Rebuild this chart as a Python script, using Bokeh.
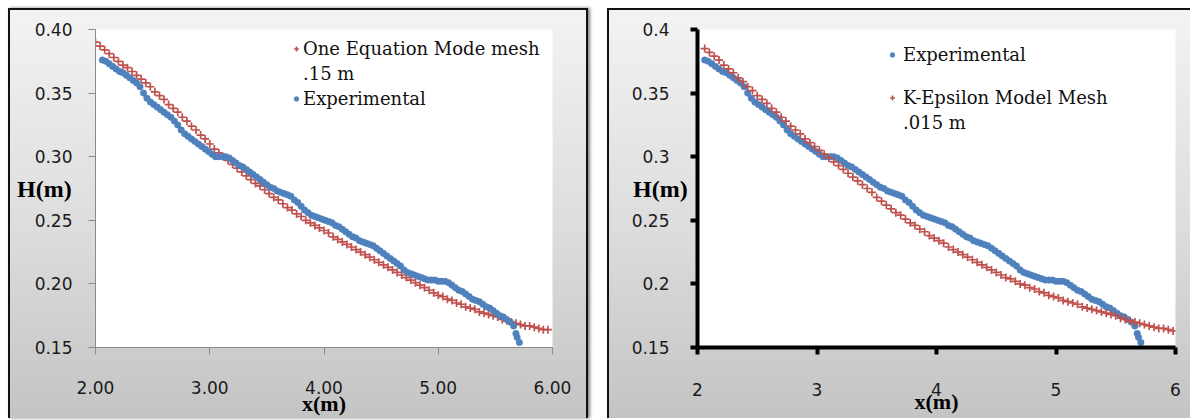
from bokeh.plotting import figure
from bokeh.layouts import row
from bokeh.models import (Range1d, FixedTicker, NumeralTickFormatter, Legend,
                          LegendItem, ColumnDataSource)
from bokeh.embed import file_html
from bokeh.resources import INLINE

# ---------------- data ----------------
exp_x = [2.06, 2.09, 2.12, 2.15, 2.18, 2.21, 2.24, 2.27, 2.30, 2.33, 2.36, 2.39, 2.42, 2.45,
         2.48, 2.51, 2.54, 2.57, 2.60, 2.63, 2.66, 2.69, 2.72, 2.75, 2.78, 2.81, 2.84, 2.87,
         2.90, 2.93, 2.96, 2.99, 3.02, 3.05, 3.08, 3.11, 3.14, 3.17, 3.20, 3.23, 3.26, 3.29,
         3.32, 3.35, 3.38, 3.41, 3.44, 3.47, 3.50, 3.53, 3.56, 3.59, 3.62, 3.65, 3.68, 3.71,
         3.74, 3.77, 3.80, 3.83, 3.86, 3.89, 3.92, 3.95, 3.98, 4.01, 4.04, 4.07, 4.10, 4.13,
         4.16, 4.19, 4.22, 4.25, 4.28, 4.31, 4.34, 4.37, 4.40, 4.43, 4.46, 4.49, 4.52, 4.55,
         4.58, 4.61, 4.64, 4.67, 4.70, 4.73, 4.76, 4.79, 4.82, 4.85, 4.88, 4.91, 4.94, 4.97,
         5.00, 5.03, 5.06, 5.09, 5.12, 5.15, 5.18, 5.21, 5.24, 5.27, 5.30, 5.33, 5.36, 5.39,
         5.42, 5.45, 5.48, 5.51, 5.54, 5.57, 5.60, 5.63, 5.66, 5.68, 5.69, 5.71]
exp_h = [0.376, 0.375, 0.373, 0.371, 0.369, 0.367, 0.366, 0.364, 0.362, 0.360, 0.358, 0.355, 0.350, 0.346,
         0.343, 0.341, 0.339, 0.337, 0.335, 0.333, 0.331, 0.328, 0.325, 0.321, 0.318, 0.316, 0.314, 0.312,
         0.310, 0.308, 0.306, 0.304, 0.302, 0.300, 0.300, 0.300, 0.300, 0.299, 0.297, 0.295, 0.293, 0.292,
         0.290, 0.288, 0.286, 0.284, 0.282, 0.280, 0.278, 0.276, 0.275, 0.273, 0.272, 0.271, 0.270, 0.269,
         0.266, 0.264, 0.261, 0.258, 0.256, 0.254, 0.253, 0.252, 0.251, 0.250, 0.249, 0.248, 0.246, 0.245,
         0.243, 0.241, 0.239, 0.237, 0.236, 0.234, 0.233, 0.232, 0.231, 0.230, 0.228, 0.226, 0.224, 0.222,
         0.220, 0.218, 0.216, 0.214, 0.211, 0.209, 0.208, 0.207, 0.206, 0.205, 0.204, 0.203, 0.203, 0.203,
         0.202, 0.202, 0.202, 0.201, 0.199, 0.197, 0.195, 0.194, 0.192, 0.190, 0.188, 0.187, 0.186, 0.184,
         0.182, 0.181, 0.179, 0.177, 0.175, 0.174, 0.172, 0.170, 0.167, 0.161, 0.158, 0.154]

one_eq_x = [2.00, 2.04, 2.08, 2.12, 2.16, 2.20, 2.24, 2.28, 2.32, 2.36, 2.40, 2.44, 2.48, 2.52,
            2.56, 2.60, 2.64, 2.68, 2.72, 2.76, 2.80, 2.84, 2.88, 2.92, 2.96, 3.00, 3.04, 3.08,
            3.12, 3.16, 3.20, 3.24, 3.28, 3.32, 3.36, 3.40, 3.44, 3.48, 3.52, 3.56, 3.60, 3.64,
            3.68, 3.72, 3.76, 3.80, 3.84, 3.88, 3.92, 3.96, 4.00, 4.04, 4.08, 4.12, 4.16, 4.20,
            4.24, 4.28, 4.32, 4.36, 4.40, 4.44, 4.48, 4.52, 4.56, 4.60, 4.64, 4.68, 4.72, 4.76,
            4.80, 4.84, 4.88, 4.92, 4.96, 5.00, 5.04, 5.08, 5.12, 5.16, 5.20, 5.24, 5.28, 5.32,
            5.36, 5.40, 5.44, 5.48, 5.52, 5.56, 5.60, 5.64, 5.68, 5.72, 5.76, 5.80, 5.84, 5.88,
            5.92, 5.96]
one_eq_h = [0.390, 0.387, 0.384, 0.381, 0.378, 0.375, 0.372, 0.370, 0.367, 0.364, 0.361, 0.358, 0.355, 0.351,
            0.348, 0.345, 0.341, 0.338, 0.335, 0.331, 0.328, 0.324, 0.321, 0.317, 0.314, 0.310, 0.306, 0.303,
            0.300, 0.297, 0.294, 0.291, 0.288, 0.285, 0.282, 0.279, 0.277, 0.274, 0.271, 0.268, 0.266, 0.263,
            0.260, 0.258, 0.255, 0.253, 0.250, 0.248, 0.246, 0.244, 0.242, 0.240, 0.237, 0.235, 0.233, 0.231,
            0.229, 0.227, 0.225, 0.223, 0.221, 0.219, 0.217, 0.215, 0.213, 0.211, 0.209, 0.207, 0.205, 0.203,
            0.201, 0.199, 0.197, 0.195, 0.193, 0.191, 0.190, 0.188, 0.187, 0.185, 0.184, 0.182, 0.181, 0.180,
            0.178, 0.177, 0.176, 0.175, 0.174, 0.172, 0.171, 0.170, 0.169, 0.168, 0.167, 0.167, 0.166, 0.165,
            0.164, 0.164]

keps_x = [2.06, 2.10, 2.14, 2.18, 2.22, 2.26, 2.30, 2.34, 2.38, 2.42, 2.46, 2.50, 2.54, 2.58,
          2.62, 2.66, 2.70, 2.74, 2.78, 2.82, 2.86, 2.90, 2.94, 2.98, 3.02, 3.06, 3.10, 3.14,
          3.18, 3.22, 3.26, 3.30, 3.34, 3.38, 3.42, 3.46, 3.50, 3.54, 3.58, 3.62, 3.66, 3.70,
          3.74, 3.78, 3.82, 3.86, 3.90, 3.94, 3.98, 4.02, 4.06, 4.10, 4.14, 4.18, 4.22, 4.26,
          4.30, 4.34, 4.38, 4.42, 4.46, 4.50, 4.54, 4.58, 4.62, 4.66, 4.70, 4.74, 4.78, 4.82,
          4.86, 4.90, 4.94, 4.98, 5.02, 5.06, 5.10, 5.14, 5.18, 5.22, 5.26, 5.30, 5.34, 5.38,
          5.42, 5.46, 5.50, 5.54, 5.58, 5.62, 5.66, 5.70, 5.74, 5.78, 5.82, 5.86, 5.90, 5.94,
          5.98]
keps_h = [0.385, 0.382, 0.379, 0.376, 0.372, 0.369, 0.366, 0.362, 0.359, 0.355, 0.352, 0.348, 0.345, 0.342,
          0.338, 0.335, 0.331, 0.328, 0.324, 0.321, 0.318, 0.314, 0.311, 0.308, 0.305, 0.302, 0.299, 0.296,
          0.293, 0.290, 0.287, 0.284, 0.281, 0.278, 0.275, 0.272, 0.268, 0.265, 0.262, 0.259, 0.256, 0.254,
          0.251, 0.248, 0.246, 0.243, 0.241, 0.238, 0.236, 0.234, 0.232, 0.229, 0.227, 0.225, 0.223, 0.221,
          0.219, 0.217, 0.215, 0.213, 0.211, 0.209, 0.207, 0.205, 0.204, 0.202, 0.200, 0.199, 0.197, 0.196,
          0.194, 0.193, 0.191, 0.190, 0.189, 0.187, 0.186, 0.185, 0.184, 0.182, 0.181, 0.180, 0.179, 0.178,
          0.177, 0.176, 0.175, 0.173, 0.172, 0.171, 0.170, 0.169, 0.168, 0.167, 0.166, 0.165, 0.165, 0.164,
          0.163]

x_ticks = [2, 3, 4, 5, 6]
y_ticks = [0.15, 0.20, 0.25, 0.30, 0.35, 0.40]

left_labels = ["One Equation Mode mesh", ".15 m", "Experimental"]
right_labels = ["Experimental", "K-Epsilon Model Mesh", ".015 m"]
x_title = "x(m)"
y_title = "H(m)"

RED = "#C0504D"
BLUE = "#4F81BD"
TICK_FONT = "DejaVu Sans"
LEG_FONT = "DejaVu Serif"
TITLE_FONT = "Liberation Serif"
GRAD = "linear-gradient(to bottom, #f3f3f3 0%, #dcdcdc 55%, #c4c4c4 100%)"


def base_fig(w, h, ml, mr, mt, mb, styles):
    p = figure(width=w, height=h, output_backend="svg", toolbar_location=None,
               x_range=Range1d(2, 6), y_range=Range1d(0.15, 0.40),
               min_border_left=ml, min_border_right=mr, min_border_top=mt, min_border_bottom=mb)
    p.border_fill_color = None
    p.background_fill_color = "white"
    p.outline_line_color = None
    p.grid.visible = False
    p.styles = styles
    for ax in (p.xaxis[0], p.yaxis[0]):
        ax.minor_tick_line_color = None
        ax.major_tick_in = 0
        ax.major_tick_out = 7
        ax.major_label_text_font = TICK_FONT
        ax.major_label_text_font_size = "17px"
        ax.major_label_text_color = "#1a1a1a"
        ax.axis_label_text_font = TITLE_FONT
        ax.axis_label_text_font_style = "bold"
        ax.axis_label_text_color = "black"
    p.xaxis.ticker = FixedTicker(ticks=x_ticks)
    p.yaxis.ticker = FixedTicker(ticks=y_ticks)
    p.yaxis.axis_label = y_title
    p.yaxis.axis_label_orientation = "horizontal"
    p.yaxis.axis_label_text_font_size = "24px"
    p.xaxis.axis_label = x_title
    p.xaxis.axis_label_text_font_size = "22px"
    return p


def legend(items, loc, spacing, standoff):
    return Legend(items=items, location=loc, padding=0, margin=0, spacing=spacing,
                  glyph_width=12, glyph_height=25, label_standoff=standoff,
                  border_line_color=None, background_fill_alpha=0,
                  label_text_font=LEG_FONT, label_text_font_size="18px",
                  label_text_color="#111")


# ---------------- left chart ----------------
p1 = base_fig(580, 410, 85, 38, 15, 73,
              {"background": GRAD, "border-left": "2px solid #111", "border-top": "2px solid #111",
               "border-right": "2px solid #111", "box-shadow": "2px 0px 3px rgba(0,0,0,0.5)"})
for ax in (p1.xaxis[0], p1.yaxis[0]):
    ax.axis_line_color = "#8a8a8a"
    ax.major_tick_line_color = "#8a8a8a"
p1.xaxis.formatter = NumeralTickFormatter(format="0.00")
p1.yaxis.formatter = NumeralTickFormatter(format="0.00")
p1.yaxis.major_label_standoff = 16
p1.xaxis.major_label_standoff = 26
p1.yaxis.axis_label_standoff = -40
p1.xaxis.axis_label_standoff = -6

src_one = ColumnDataSource(dict(x=one_eq_x, y=one_eq_h))
src_exp1 = ColumnDataSource(dict(x=exp_x, y=exp_h))
r1a = p1.scatter("x", "y", source=src_one, marker="cross", size=8, line_color=RED, line_width=1.7)
r1b = p1.scatter("x", "y", source=src_exp1, marker="circle", size=6.5, fill_color=BLUE,
                 line_color=BLUE, line_width=0.5)

p1.add_layout(legend([LegendItem(label=left_labels[0], renderers=[r1a]),
                      LegendItem(label=left_labels[1], renderers=[]),
                      LegendItem(label=left_labels[2], renderers=[r1b])],
                     (195, 236), 0, 1))

# ---------------- right chart ----------------
p2 = base_fig(583, 410, 88, 17, 19, 70,
              {"background": GRAD, "border-left": "2px solid #111", "border-top": "2px solid #111"})
for ax in (p2.xaxis[0], p2.yaxis[0]):
    ax.axis_line_color = "black"
    ax.axis_line_width = 4
    ax.major_tick_line_color = "black"
    ax.major_tick_line_width = 4
p2.xaxis.formatter = NumeralTickFormatter(format="0.[00]")
p2.yaxis.formatter = NumeralTickFormatter(format="0.[00]")
p2.yaxis.major_label_standoff = 21
p2.xaxis.major_label_standoff = 28
p2.yaxis.axis_label_standoff = -59
p2.xaxis.axis_label_standoff = -10

src_exp2 = ColumnDataSource(dict(x=exp_x, y=exp_h))
src_keps = ColumnDataSource(dict(x=keps_x, y=keps_h))
r2a = p2.scatter("x", "y", source=src_exp2, marker="circle", size=6.5, fill_color=BLUE,
                 line_color=BLUE, line_width=0.5)
r2b = p2.scatter("x", "y", source=src_keps, marker="cross", size=8, line_color=RED, line_width=1.7)

p2.add_layout(legend([LegendItem(label=right_labels[0], renderers=[r2a])], (189, 280), 0, 5))
p2.add_layout(legend([LegendItem(label=right_labels[1], renderers=[r2b]),
                      LegendItem(label=right_labels[2], renderers=[])], (189, 212), 0, 5))

layout = row(p1, p2, spacing=19, margin=(8, 0, 0, 8))
open("out.html", "w").write(file_html(layout, INLINE))
